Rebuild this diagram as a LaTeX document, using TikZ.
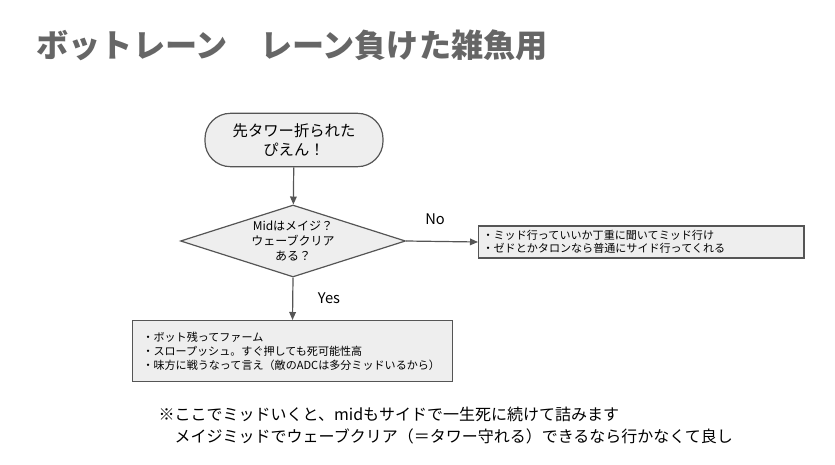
\documentclass[tikz,border=0pt]{standalone}
\usepackage{fontspec}
\setmainfont{Noto Sans CJK JP}
\usepackage{tikz}
\usepackage{xcolor}
\usetikzlibrary{shapes.geometric,arrows.meta}

\definecolor{boxfill}{HTML}{EEEEEE}
\definecolor{boxline}{HTML}{555555}
\definecolor{titlegray}{HTML}{666666}

\begin{document}
\begin{tikzpicture}[x=0.75pt,y=-0.75pt,
    box/.style={draw=boxline,fill=boxfill,line width=0.9pt},
    flow/.style={draw=boxline,line width=0.9pt,-{Triangle[length=6pt,width=5pt]}},
    small/.style={font=\fontsize{8.3}{9.8}\selectfont}]
    \useasboundingbox (0,0) rectangle (835,464);

    \node[anchor=west,text=titlegray,font=\fontsize{24.1}{28}\selectfont\bfseries] (title) at (32,45) {ボットレーン　レーン負けた雑魚用};

    % start
    \node[box,rounded corners=19pt,minimum width=133.5pt,minimum height=40pt,align=center,
          font=\fontsize{11.5}{14.3}\selectfont] (start) at (294,140) {先タワー折られた\\ぴえん！};

    % question
    \node[box,diamond,aspect=3.125,inner sep=0pt,minimum width=168.75pt,minimum height=54pt,
          align=center,font=\fontsize{9}{11.2}\selectfont] (ask) at (293,241) {Midはメイジ？\\ウェーブクリア\\ある？};

    % answers
    \node[box,small,anchor=west,text width=238pt,inner xsep=3pt,minimum height=21pt,align=left] (nobox) at (478,242)
        {・ミッド行っていいか丁重に聞いてミッド行け\\・ゼドとかタロンなら普通にサイド行ってくれる};
    \node[box,small,anchor=north,text width=225pt,inner xsep=7.5pt,minimum height=45.75pt,align=left,
          font=\fontsize{8.3}{10.5}\selectfont] (yesbox) at (292.5,320)
        {・ボット残ってファーム\\・スロープッシュ。すぐ押しても死可能性高\\・味方に戦うなって言え（敵のADCは多分ミッドいるから）};

    \draw[flow] (start) -- (ask);
    \draw[flow] (ask.east) -- (nobox.west);
    \draw[flow] (ask.south) -- (yesbox.north);

    \node[font=\fontsize{11}{13}\selectfont] (no) at (435,219) {No};
    \node[font=\fontsize{11}{13}\selectfont] (yes) at (329,298) {Yes};

    \node[anchor=north west,align=left,font=\fontsize{12}{16.5}\selectfont] (note) at (154,402)
        {※ここでミッドいくと、midもサイドで一生死に続けて詰みます\\　メイジミッドでウェーブクリア（＝タワー守れる）できるなら行かなくて良し};
\end{tikzpicture}
\end{document}
